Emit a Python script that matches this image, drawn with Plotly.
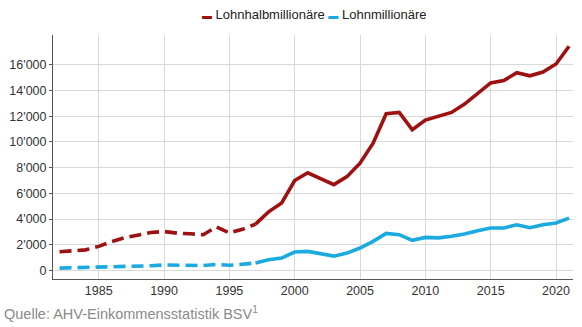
import plotly.graph_objects as go

years = list(range(1982, 2022))
lohnhalbmillionaere = [1450, 1500, 1600, 1870, 2250, 2550, 2780, 2950, 3030, 2900,
                       2850, 2780, 3380, 2920, 3200, 3600, 4560, 5250, 7000, 7600,
                       7150, 6680, 7300, 8350, 9900, 12200, 12300, 10950, 11700, 12000,
                       12300, 12950, 13780, 14600, 14780, 15400, 15150, 15450, 16070, 17450]
lohnmillionaere = [180, 200, 220, 240, 280, 310, 330, 360, 420, 400,
                   370, 380, 470, 400, 480, 580, 830, 960, 1430, 1480,
                   1330, 1110, 1350, 1740, 2260, 2880, 2780, 2340, 2570, 2530,
                   2660, 2830, 3090, 3300, 3300, 3550, 3320, 3550, 3690, 4070]
series_names = ["Lohnhalbmillionäre", "Lohnmillionäre"]
series_colors = ["#9E1111", "#1AAAE0"]
break_year = 1997
source_text = "Quelle: AHV-Einkommensstatistik BSV<sup>1</sup>"
x_tickvals = [1985, 1990, 1995, 2000, 2005, 2010, 2015, 2020]
y_tickvals = [0, 2000, 4000, 6000, 8000, 10000, 12000, 14000, 16000]

fig = go.Figure()
for name, vals, col in zip(series_names, [lohnhalbmillionaere, lohnmillionaere], series_colors):
    xd = [y for y in years if y <= break_year]
    yd = [v for y, v in zip(years, vals) if y <= break_year]
    xs = [y for y in years if y >= break_year]
    ys = [v for y, v in zip(years, vals) if y >= break_year]
    fig.add_trace(go.Scatter(x=xd, y=yd, mode="lines", name=name, showlegend=False,
                             line=dict(color=col, width=3.6, dash="12px,6px")))
    fig.add_trace(go.Scatter(x=xs, y=ys, mode="lines", name=name, showlegend=False,
                             line=dict(color=col, width=3.6)))

legend_text = " ".join(
    f"<span style='color:{c};font-size:10px'>▬</span> {n}"
    for n, c in zip(series_names, series_colors)
)

fig.update_layout(
    width=582, height=327,
    margin=dict(l=50, r=9, t=35, b=48),
    paper_bgcolor="white", plot_bgcolor="white",
    separators=".'",
    showlegend=False,
    font=dict(family="Liberation Sans, Arial, sans-serif", size=12, color="#333333"),
    xaxis=dict(range=[1981.5, 2021.3], tickvals=x_tickvals, showgrid=True,
               gridcolor="#D9D9D9", gridwidth=1, showline=True, linecolor="#555555",
               linewidth=1, ticks="", zeroline=False, tickfont=dict(size=12.5, color="#333333")),
    yaxis=dict(range=[-670, 18330], tickvals=y_tickvals, tickformat=",d", showgrid=True,
               gridcolor="#D9D9D9", gridwidth=1, showline=True, linecolor="#555555",
               linewidth=1, ticks="outside", ticklen=3, tickcolor="#555555",
               zeroline=False, tickfont=dict(size=12.5, color="#333333")),
    annotations=[
        dict(text=legend_text, xref="paper", yref="paper", x=0.283, y=1.082,
             xanchor="left", yanchor="middle", showarrow=False,
             font=dict(size=13, color="#222222")),
        dict(text=source_text, xref="paper", yref="paper", x=-0.098, y=-0.095,
             xanchor="left", yanchor="top", showarrow=False,
             font=dict(size=14.5, color="#8A8A8A")),
    ],
)
fig.write_html("out.html")
